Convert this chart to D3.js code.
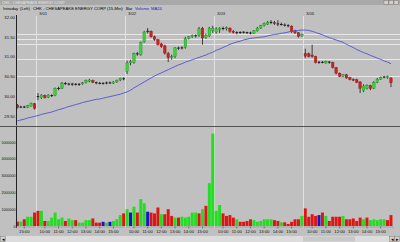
<!DOCTYPE html>
<html><head><meta charset="utf-8">
<script src="https://cdn.jsdelivr.net/npm/d3@7"></script>
<style>body{margin:0;background:#c0c0c0;overflow:hidden}svg{display:block}text{font-family:"Liberation Sans",Arial,sans-serif}</style>
</head><body>
<svg id="c" width="400" height="242"></svg>
<script>
// ---------------- DATA ----------------
const dayLabels = ["2/28","3/01","3/02","3/03","3/06"];
const daySessions = [
  ["14:30","14:45","15:00","15:15","15:30","15:45"],
  ["09:30","09:45","10:00","10:15","10:30","10:45","11:00","11:15","11:30","11:45","12:00","12:15","12:30","12:45","13:00","13:15","13:30","13:45","14:00","14:15","14:30","14:45","15:00","15:15","15:30","15:45"],
  ["09:30","09:45","10:00","10:15","10:30","10:45","11:00","11:15","11:30","11:45","12:00","12:15","12:30","12:45","13:00","13:15","13:30","13:45","14:00","14:15","14:30","14:45","15:00","15:15","15:30","15:45"],
  ["09:30","09:45","10:00","10:15","10:30","10:45","11:00","11:15","11:30","11:45","12:00","12:15","12:30","12:45","13:00","13:15","13:30","13:45","14:00","14:15","14:30","14:45","15:00","15:15","15:30","15:45"],
  ["09:30","09:45","10:00","10:15","10:30","10:45","11:00","11:15","11:30","11:45","12:00","12:15","12:30","12:45","13:00","13:15","13:30","13:45","14:00","14:15","14:30","14:45","15:00","15:15","15:30","15:45"]
];
const openP = [29.78,29.72,29.73,29.72,29.75,29.81,
 30.00,29.96,30.02,29.97,30.02,30.02,30.20,30.20,30.33,30.31,30.30,30.31,30.29,30.31,30.34,30.38,30.40,30.35,30.33,30.32,30.33,30.34,30.33,30.36,30.41,30.45,
 30.62,30.84,30.85,31.08,31.05,31.37,31.63,31.64,31.50,31.43,31.32,31.27,31.08,30.97,31.00,31.22,31.21,31.23,31.46,31.50,31.53,31.53,31.72,31.48,31.52,31.66,
 31.62,31.68,31.72,31.70,31.72,31.64,31.61,31.60,31.62,31.61,31.60,31.59,31.65,31.72,31.78,31.82,31.87,31.86,31.83,31.82,31.80,31.79,31.77,31.65,31.60,31.52,
 31.08,31.07,31.04,31.00,30.85,30.86,30.84,30.87,30.85,30.72,30.58,30.50,30.54,30.47,30.43,30.42,30.36,30.14,30.20,30.27,30.20,30.35,30.43,30.48,30.47,30.46];
const highP = [29.80,29.76,29.76,29.78,29.84,29.83,
 30.08,30.05,30.04,30.05,30.05,30.22,30.24,30.36,30.36,30.34,30.34,30.33,30.33,30.36,30.42,30.44,30.42,30.37,30.36,30.35,30.37,30.37,30.38,30.42,30.47,30.48,
 30.90,30.92,31.10,31.12,31.38,31.65,31.72,31.66,31.53,31.45,31.35,31.30,31.12,31.05,31.24,31.25,31.26,31.50,31.52,31.56,31.56,31.75,31.75,31.58,31.75,31.78,
 31.74,31.74,31.76,31.76,31.74,31.67,31.64,31.64,31.64,31.63,31.63,31.67,31.75,31.80,31.86,31.90,31.92,31.90,31.92,31.86,31.84,31.82,31.79,31.68,31.62,31.58,
 31.20,31.10,31.30,31.02,30.89,30.89,30.90,30.89,30.87,30.74,30.60,30.56,30.56,30.49,30.45,30.44,30.38,30.30,30.30,30.29,30.38,30.46,30.50,30.51,30.52,30.48];
const lowP = [29.69,29.70,29.70,29.70,29.74,29.66,
 29.90,29.93,29.94,29.95,29.98,30.00,30.15,30.18,30.28,30.27,30.26,30.27,30.26,30.29,30.32,30.35,30.33,30.30,30.30,30.29,30.30,30.31,30.31,30.34,30.38,30.40,
 30.56,30.78,30.82,31.02,31.02,31.35,31.58,31.48,31.40,31.28,31.22,31.05,30.86,30.92,30.96,31.17,31.18,31.20,31.43,31.47,31.48,31.50,31.30,31.45,31.50,31.60,
 31.58,31.60,31.66,31.66,31.60,31.58,31.56,31.57,31.58,31.57,31.56,31.57,31.63,31.70,31.76,31.80,31.82,31.80,31.77,31.78,31.76,31.74,31.60,31.57,31.48,31.50,
 30.96,30.98,30.97,30.83,30.82,30.83,30.82,30.82,30.70,30.55,30.48,30.48,30.44,30.40,30.38,30.33,30.08,30.10,30.17,30.15,30.18,30.33,30.41,30.45,30.44,30.23];
const closeP = [29.71,29.73,29.72,29.76,29.82,29.69,
 29.98,30.03,29.96,30.03,30.01,30.20,30.19,30.33,30.31,30.30,30.31,30.29,30.31,30.34,30.39,30.41,30.35,30.33,30.32,30.33,30.34,30.33,30.36,30.40,30.45,30.43,
 30.84,30.88,31.08,31.06,31.36,31.62,31.65,31.50,31.43,31.30,31.25,31.09,30.97,31.00,31.22,31.21,31.23,31.46,31.50,31.53,31.52,31.70,31.47,31.54,31.72,31.72,
 31.70,31.72,31.70,31.73,31.64,31.61,31.60,31.62,31.61,31.60,31.59,31.65,31.72,31.78,31.84,31.87,31.86,31.83,31.82,31.80,31.79,31.77,31.63,31.60,31.51,31.56,
 31.01,31.00,31.00,30.85,30.86,30.85,30.88,30.85,30.72,30.58,30.50,30.54,30.46,30.42,30.40,30.35,30.20,30.26,30.27,30.19,30.35,30.43,30.48,30.49,30.50,30.34];
const ma24 = [29.38,29.40,29.42,29.45,29.47,29.49,
 29.51,29.54,29.56,29.58,29.60,29.63,29.66,29.68,29.71,29.74,29.76,29.79,29.81,29.84,29.86,29.88,29.90,29.92,29.93,29.95,29.97,29.99,30.01,30.03,30.05,30.08,
 30.11,30.15,30.21,30.26,30.31,30.36,30.41,30.46,30.51,30.55,30.59,30.63,30.67,30.71,30.75,30.79,30.82,30.86,30.89,30.92,30.95,30.98,31.01,31.04,31.08,31.11,
 31.16,31.19,31.23,31.27,31.31,31.34,31.37,31.39,31.42,31.44,31.46,31.47,31.48,31.49,31.50,31.52,31.54,31.56,31.57,31.59,31.60,31.62,31.64,31.65,31.66,31.67,
 31.67,31.66,31.64,31.61,31.58,31.55,31.51,31.48,31.45,31.42,31.39,31.36,31.31,31.27,31.23,31.18,31.14,31.10,31.07,31.03,31.00,30.96,30.93,30.89,30.86,30.82];
const volume = [260000,260000,400000,550000,550000,800000,
 900000,900000,300000,300000,500000,800000,400000,500000,300000,450000,350000,350000,200000,200000,350000,350000,450000,200000,200000,250000,200000,250000,300000,400000,650000,750000,
 1000000,800000,1150000,800000,1600000,1350000,850000,800000,750000,1100000,700000,700000,1000000,600000,500000,500000,550000,500000,550000,800000,800000,750000,1000000,1200000,2550000,5500000,
 900000,1250000,750000,600000,650000,500000,400000,250000,250000,300000,400000,350000,250000,300000,400000,400000,400000,350000,300000,220000,220000,120000,250000,400000,400000,600000,
 1050000,550000,700000,600000,650000,800000,600000,300000,550000,550000,550000,600000,400000,400000,450000,300000,500000,400000,500000,350000,400000,350000,400000,400000,350000,650000];
const volDir = ["d","u","d","u","u","d",
 "d","u","d","u","u","u","u","u","d","u","u","d","u","u","u","u","d","d","d","n","u","n","u","u","u","d",
 "u","n","u","d","u","u","n","d","d","d","u","d","d","d","u","d","u","u","u","u","u","d","u","d","u","u",
 "u","u","d","d","d","d","u","d","d","d","d","u","u","u","u","u","u","d","d","u","d","d","d","d","d","u",
 "d","d","d","d","n","d","u","d","d","d","d","u","d","d","d","d","d","u","d","u","u","u","u","u","d","d"];
const priceTicks = [29.5,30.0,30.5,31.0,31.5,32.0];
const volTicks = [0,1000000,2000000,3000000,4000000,5000000];
const levelLines = [31.57,31.44,31.32,30.93,30.52];

// ---------------- BUILD ----------------
const bars = [];
daySessions.forEach((s,d)=>s.forEach(t=>bars.push({day:d,time:t})));
const N = bars.length;
const idx = d3.range(N);
const dayStart = dayLabels.map((_,d)=>bars.findIndex(b=>b.day===d));

const svg = d3.select("#c");
const W = 400, H = 242;
const font = 4.2;
const FF = '"Liberation Sans",Arial,sans-serif';

svg.append("rect").attr("width",W).attr("height",H).attr("fill","#c0c0c0");

// title bar
svg.append("rect").attr("x",0).attr("y",0).attr("width",W).attr("height",5).attr("fill","#a9a9a9");
svg.append("text").attr("x",2).attr("y",3.6).attr("font-size",3.6).attr("fill","#e6e6e6").text("CHK - CHESAPEAKE ENERGY CORP");
[384,389,394].forEach(bx=>svg.append("rect").attr("x",bx).attr("y",0.5).attr("width",4.2).attr("height",3.8)
  .attr("fill","#d4d0c8").attr("stroke","#555").attr("stroke-width",0.3));

// info line
const info = [["Intraday",3,"#000"],["(Left)",20,"#000"],["CHK - CHESAPEAKE ENERGY CORP (15-Min)",33,"#000"],["Bar",126,"#000"],["Volume",135,"#2020c0"],["MA24",151,"#2020c0"]];
info.forEach(([t,x0,c])=>svg.append("text").attr("x",x0).attr("y",9.6).attr("font-size",font).attr("fill",c).text(t));

// scales
const x = d3.scaleBand().domain(idx).range([15.8,392.6]).paddingInner(0.25).paddingOuter(0.1);
const bw = x.bandwidth();
const cx = i => x(i) + bw/2;
const y = d3.scaleLinear().domain([29.5,32]).range([116,17]);
const yv = d3.scaleLinear().domain([0,5000000]).range([226,142]);

const pTop = 16, pBot = 125.5, vBot = 228;

const defs = svg.append("defs");
defs.append("clipPath").attr("id","cp").append("rect").attr("x",16.5).attr("y",pTop).attr("width",W-16.5).attr("height",pBot-pTop);

// level lines
svg.append("g").selectAll("line").data(levelLines).join("line")
  .attr("x1",16.5).attr("x2",W).attr("y1",d=>Math.round(y(d))+0.5).attr("y2",d=>Math.round(y(d))+0.5)
  .attr("stroke","#e8e8e8").attr("stroke-width",1);

// day separators
const sepX = d => Math.round(x(dayStart[d]) - 1) + 0.5;
svg.append("g").selectAll("line").data(d3.range(1,dayLabels.length)).join("line")
  .attr("x1",sepX).attr("x2",sepX).attr("y1",pTop).attr("y2",vBot)
  .attr("stroke","#e2e2e2").attr("stroke-width",1);
svg.append("g").selectAll("text").data(d3.range(1,dayLabels.length)).join("text")
  .attr("x",d=>sepX(d)+2.5).attr("y",15).attr("font-size",font).attr("fill","#222").text(d=>dayLabels[d]);

// candles
const cg = svg.append("g").attr("clip-path","url(#cp)");
cg.selectAll("line.w").data(idx).join("line").attr("class","w")
  .attr("x1",cx).attr("x2",cx).attr("y1",i=>y(highP[i])).attr("y2",i=>y(lowP[i]))
  .attr("stroke","#1a1a1a").attr("stroke-width",0.8);
cg.selectAll("rect.b").data(idx).join("rect").attr("class","b")
  .attr("x",i=>x(i)).attr("width",bw)
  .attr("y",i=>{const t=y(Math.max(openP[i],closeP[i]));const h=Math.abs(y(openP[i])-y(closeP[i]));return h<1?(y((openP[i]+closeP[i])/2)-0.5):t;})
  .attr("height",i=>Math.max(1,Math.abs(y(openP[i])-y(closeP[i]))))
  .attr("fill",i=>{const d=closeP[i]-openP[i];if(Math.abs(d)<0.025)return "#1a1a1a";return d>0?"#36d236":"#d21e1e";})
  .attr("stroke",i=>{const d=closeP[i]-openP[i];if(Math.abs(d)<0.025)return "none";return d>0?"#1b7a1b":"#801010";})
  .attr("stroke-width",0.3);

// MA line
cg.append("path").datum(idx).attr("fill","none").attr("stroke","#5c5cd0").attr("stroke-width",1)
  .attr("d",d3.line().x(cx).y(i=>y(ma24[i])));

// price axis
const pa = svg.append("g").attr("transform","translate(16,0)")
  .call(d3.axisLeft(y).tickValues(priceTicks).tickFormat(d3.format(".2f")).tickSize(0).tickPadding(1.2));
pa.select(".domain").remove();
pa.selectAll("text").attr("font-size",font).attr("fill","#111").attr("font-family",FF);
svg.append("line").attr("x1",16.5).attr("x2",16.5).attr("y1",15).attr("y2",pBot).attr("stroke","#222").attr("stroke-width",1);

// panel separator
svg.append("line").attr("x1",0).attr("x2",W).attr("y1",126.5).attr("y2",126.5).attr("stroke","#505050").attr("stroke-width",1);

// volume bars
const volColor = {u:"#22dd22",d:"#dd1515",n:"#1515cc"};
svg.append("g").selectAll("rect").data(idx).join("rect")
  .attr("x",i=>x(i)-0.2).attr("width",bw+0.4)
  .attr("y",i=>yv(volume[i])).attr("height",i=>yv(0)-yv(volume[i]))
  .attr("fill",i=>volColor[volDir[i]]);

// volume axis
const va = svg.append("g").attr("transform","translate(16,0)")
  .call(d3.axisLeft(yv).tickValues(volTicks).tickFormat(d3.format("d")).tickSize(0).tickPadding(0.6));
va.select(".domain").remove();
va.selectAll("text").attr("font-size",3.6).attr("fill","#111").attr("font-family",FF);
svg.append("line").attr("x1",16.5).attr("x2",16.5).attr("y1",127).attr("y2",vBot).attr("stroke","#222").attr("stroke-width",1);

// time axis
const timeTicks = idx.filter(i=>bars[i].time.endsWith(":00"));
const ta = svg.append("g").attr("transform",`translate(0,${yv(0)+0.5})`)
  .call(d3.axisBottom(x).tickValues(timeTicks).tickFormat(i=>bars[i].time).tickSize(2).tickPadding(1.5));
ta.select(".domain").attr("stroke","#888").attr("stroke-width",0.5);
ta.selectAll(".tick line").attr("stroke","#333").attr("stroke-width",0.5);
ta.selectAll("text").attr("font-size",font).attr("fill","#111").attr("font-family",FF);

// scrollbar
svg.append("rect").attr("x",0).attr("y",236).attr("width",W).attr("height",6).attr("fill","#dcdcdc");
svg.append("rect").attr("x",303).attr("y",236.5).attr("width",52).attr("height",5).attr("fill","#c8c8c8");
[[0.5,"◂"],[389.5,"◂"],[394.5,"▸"]].forEach(([bx,t])=>{
  svg.append("rect").attr("x",bx).attr("y",236.5).attr("width",5).attr("height",5).attr("fill","#d4d0c8").attr("stroke","#666").attr("stroke-width",0.4);
  svg.append("text").attr("x",bx+2.5).attr("y",240.8).attr("font-size",4.5).attr("text-anchor","middle").attr("fill","#000").text(t);
});
</script>
</body></html>
